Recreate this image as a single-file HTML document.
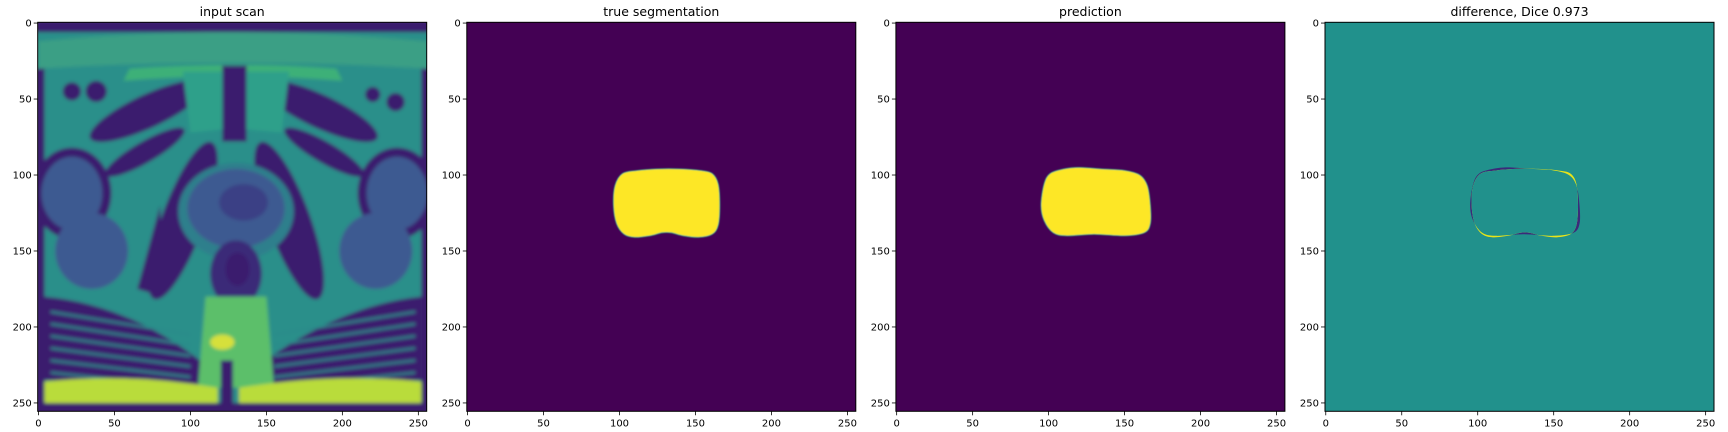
<!DOCTYPE html>
<html><head><meta charset="utf-8">
<style>
html,body{margin:0;padding:0;background:#fff;}
#fig{position:relative;width:1728px;height:432px;overflow:hidden;font-family:"DejaVu Sans","Liberation Sans",sans-serif;}
svg{position:absolute;left:0;top:0;}
</style></head>
<body>
<div id="fig">
<svg id="root" width="1728" height="432"></svg>
</div>
<script>
const titles = ["input scan","true segmentation","prediction","difference, Dice 0.973"];
const tickValues = [0,50,100,150,200,250];
const trueX = [102,112,125,140,153,161,165,166,165,161,152,142,134,128,120,110,103,98,96,97];
const trueY = [99,97,96,96,97,99,106,120,133,139,141,140,138,138,140,141,139,132,120,107];
const predX = [101,110,120,135,150,160,165,167,167,163,150,130,112,103,97,95,97];
const predY = [99,96,95,96,97,100,107,120,132,138,140,139,140,138,130,120,106];

const NS="http://www.w3.org/2000/svg";
const root=document.getElementById('root');
const lefts=[37.7,466.8,895.9,1325];
const TOP=22.3, SIZE=389, N=256;
const sc=v=>(v+0.5)*SIZE/N;
function el(t,a,p){const e=document.createElementNS(NS,t);for(const k in a)e.setAttribute(k,a[k]);(p||root).appendChild(e);return e;}
function smooth(xs,ys){
  const n=xs.length;let d='M'+xs[0]+','+ys[0];
  for(let i=0;i<n;i++){
    const p0=(i-1+n)%n,p1=i,p2=(i+1)%n,p3=(i+2)%n;
    const c1x=xs[p1]+(xs[p2]-xs[p0])/6,c1y=ys[p1]+(ys[p2]-ys[p0])/6;
    const c2x=xs[p2]-(xs[p3]-xs[p1])/6,c2y=ys[p2]-(ys[p3]-ys[p1])/6;
    d+=' C'+c1x+','+c1y+' '+c2x+','+c2y+' '+xs[p2]+','+ys[p2];
  }
  return d+'Z';
}

const defs=el('defs',{});
const f=el('filter',{id:'blur',x:'-10%',y:'-10%',width:'120%',height:'120%'},defs);
el('feGaussianBlur',{stdDeviation:'1.2'},f);
const f2=el('filter',{id:'soft'},defs);
el('feGaussianBlur',{stdDeviation:'0.4'},f2);
const cp=el('clipPath',{id:'predclip'},defs);
el('path',{d:smooth(predX,predY)},cp);

lefts.forEach((L,i)=>{
  const g=el('g',{});
  
  
  const t=el('text',{x:L+SIZE/2,y:16,'text-anchor':'middle','font-size':'12.5',fill:'#000'},g);
  t.textContent=titles[i];
  
  
  const img=el('svg',{x:L,y:TOP,width:SIZE,height:SIZE,viewBox:'-0.5 -0.5 256 256',preserveAspectRatio:'none'},g);
  
  
  if(i===0) drawScan(img);
  else if(i===1){el('rect',{x:-1,y:-1,width:258,height:258,fill:'#440154'},img);
    const p=el('path',{d:smooth(trueX,trueY),fill:'#fde725',stroke:'#3ab08a','stroke-width':'0.6',filter:'url(#soft)'},img);
    }
  else if(i===2){el('rect',{x:-1,y:-1,width:258,height:258,fill:'#440154'},img);
    const p=el('path',{d:smooth(predX,predY),fill:'#fde725',stroke:'#3ab08a','stroke-width':'0.6',filter:'url(#soft)'},img);
    }
  else {el('rect',{x:-1,y:-1,width:258,height:258,fill:'#21918c'},img);
    const a=el('path',{d:smooth(predX,predY),fill:'#3b2a7a'},img);
    
    const b=el('path',{d:smooth(trueX,trueY),fill:'#e8e419'},img);
    
    el('path',{d:smooth(trueX,trueY),fill:'#21918c','clip-path':'url(#predclip)'},img);
  }
  el('rect',{x:L,y:TOP,width:SIZE,height:SIZE,fill:'none',stroke:'#000','stroke-width':'1'},g);
  tickValues.forEach(v=>{
    const px=L+sc(v), py=TOP+sc(v);
    el('line',{x1:px,y1:TOP+SIZE,x2:px,y2:TOP+SIZE+4,stroke:'#000','stroke-width':'0.8'},g);
    const tx=el('text',{x:px,y:TOP+SIZE+15,'text-anchor':'middle','font-size':'10',fill:'#000'},g);
    tx.textContent=v;
    
    
    el('line',{x1:L-4,y1:py,x2:L,y2:py,stroke:'#000','stroke-width':'0.8'},g);
    const ty=el('text',{x:L-6,y:py+3.5,'text-anchor':'end','font-size':'10',fill:'#000'},g);
    ty.textContent=v;
    
    
  });
});

function drawScan(s){
  const D='#3b1c6e', M='#3d5a91', T='#2a8f8a', G='#3cb078', Y='#b9dc3a';
  const g=el('g',{filter:'url(#blur)'},s);
  el('rect',{x:-2,y:-2,width:260,height:260,fill:T},g);
  el('rect',{x:-2,y:-2,width:260,height:8,fill:D},g);
  el('path',{d:'M0,12 Q128,0 256,12 L256,30 Q128,22 0,30Z',fill:'#3a9f85'},g);
  el('path',{d:'M60,30 Q128,25 196,30 L200,38 Q128,32 56,38Z',fill:G},g);
  el('rect',{x:-2,y:30,width:6,height:220,fill:D},g);
  el('rect',{x:252,y:30,width:6,height:220,fill:D},g);
  el('ellipse',{cx:22,cy:112,rx:26,ry:30,fill:D},g);
  el('ellipse',{cx:22,cy:112,rx:20,ry:24,fill:M},g);
  el('ellipse',{cx:236,cy:112,rx:26,ry:30,fill:D},g);
  el('ellipse',{cx:236,cy:112,rx:20,ry:24,fill:M},g);
  el('ellipse',{cx:35,cy:150,rx:24,ry:25,fill:M},g);
  el('ellipse',{cx:222,cy:150,rx:24,ry:25,fill:M},g);
  el('circle',{cx:22,cy:45,r:6,fill:D},g);el('circle',{cx:38,cy:45,r:7,fill:D},g);
  el('circle',{cx:235,cy:52,r:6,fill:D},g);el('circle',{cx:220,cy:47,r:5,fill:D},g);
  el('ellipse',{cx:72,cy:58,rx:42,ry:11,fill:D,transform:'rotate(-25 72 58)'},g);
  el('ellipse',{cx:185,cy:58,rx:42,ry:11,fill:D,transform:'rotate(25 185 58)'},g);
  el('ellipse',{cx:70,cy:85,rx:30,ry:7,fill:D,transform:'rotate(-30 70 85)'},g);
  el('ellipse',{cx:188,cy:85,rx:30,ry:7,fill:D,transform:'rotate(30 188 85)'},g);
  el('rect',{x:121,y:28,width:16,height:50,fill:D},g);
  el('path',{d:'M95,32 L121,32 L121,70 L100,72Z',fill:'#2fa08a'},g);
  el('path',{d:'M137,32 L165,32 L160,72 L137,70Z',fill:'#2fa08a'},g);
  el('ellipse',{cx:95,cy:130,rx:14,ry:55,fill:D,transform:'rotate(20 95 130)'},g);
  el('ellipse',{cx:165,cy:130,rx:14,ry:55,fill:D,transform:'rotate(-20 165 130)'},g);
  el('path',{d:'M65,175 L80,120 L82,180Z',fill:D},g);
  el('ellipse',{cx:130,cy:124,rx:38,ry:32,fill:'#2e7f8c'},g);
  el('ellipse',{cx:130,cy:122,rx:32,ry:26,fill:M},g);
  el('ellipse',{cx:135,cy:118,rx:16,ry:12,fill:'#3a3f85'},g);
  el('ellipse',{cx:130,cy:165,rx:17,ry:22,fill:'#3a2a78'},g);
  el('ellipse',{cx:131,cy:162,rx:8,ry:11,fill:D},g);
  el('path',{d:'M4,180 Q60,185 110,225 L110,238 L4,235Z',fill:D},g);
  el('path',{d:'M252,180 Q200,185 145,225 L145,238 L252,235Z',fill:D},g);
  for(let k=0;k<6;k++){
    el('line',{x1:8,y1:190+k*8,x2:100,y2:205+k*7,stroke:'#2b8a8a','stroke-width':'1.4'},g);
    el('line',{x1:248,y1:190+k*8,x2:155,y2:205+k*7,stroke:'#2b8a8a','stroke-width':'1.4'},g);
  }
  el('path',{d:'M110,180 L150,180 L155,240 L105,240Z',fill:'#5cbf6a'},g);
  el('ellipse',{cx:121,cy:210,rx:8,ry:5,fill:'#d6e03a'},g);
  el('rect',{x:120,y:222,width:8,height:30,fill:D},g);
  el('path',{d:'M4,236 Q60,230 118,240 L118,252 L4,250Z',fill:Y},g);
  el('path',{d:'M252,236 Q196,230 132,240 L132,252 L252,250Z',fill:Y},g);
  el('rect',{x:-2,y:250,width:260,height:8,fill:D},g);
}
</script>
</body></html>
